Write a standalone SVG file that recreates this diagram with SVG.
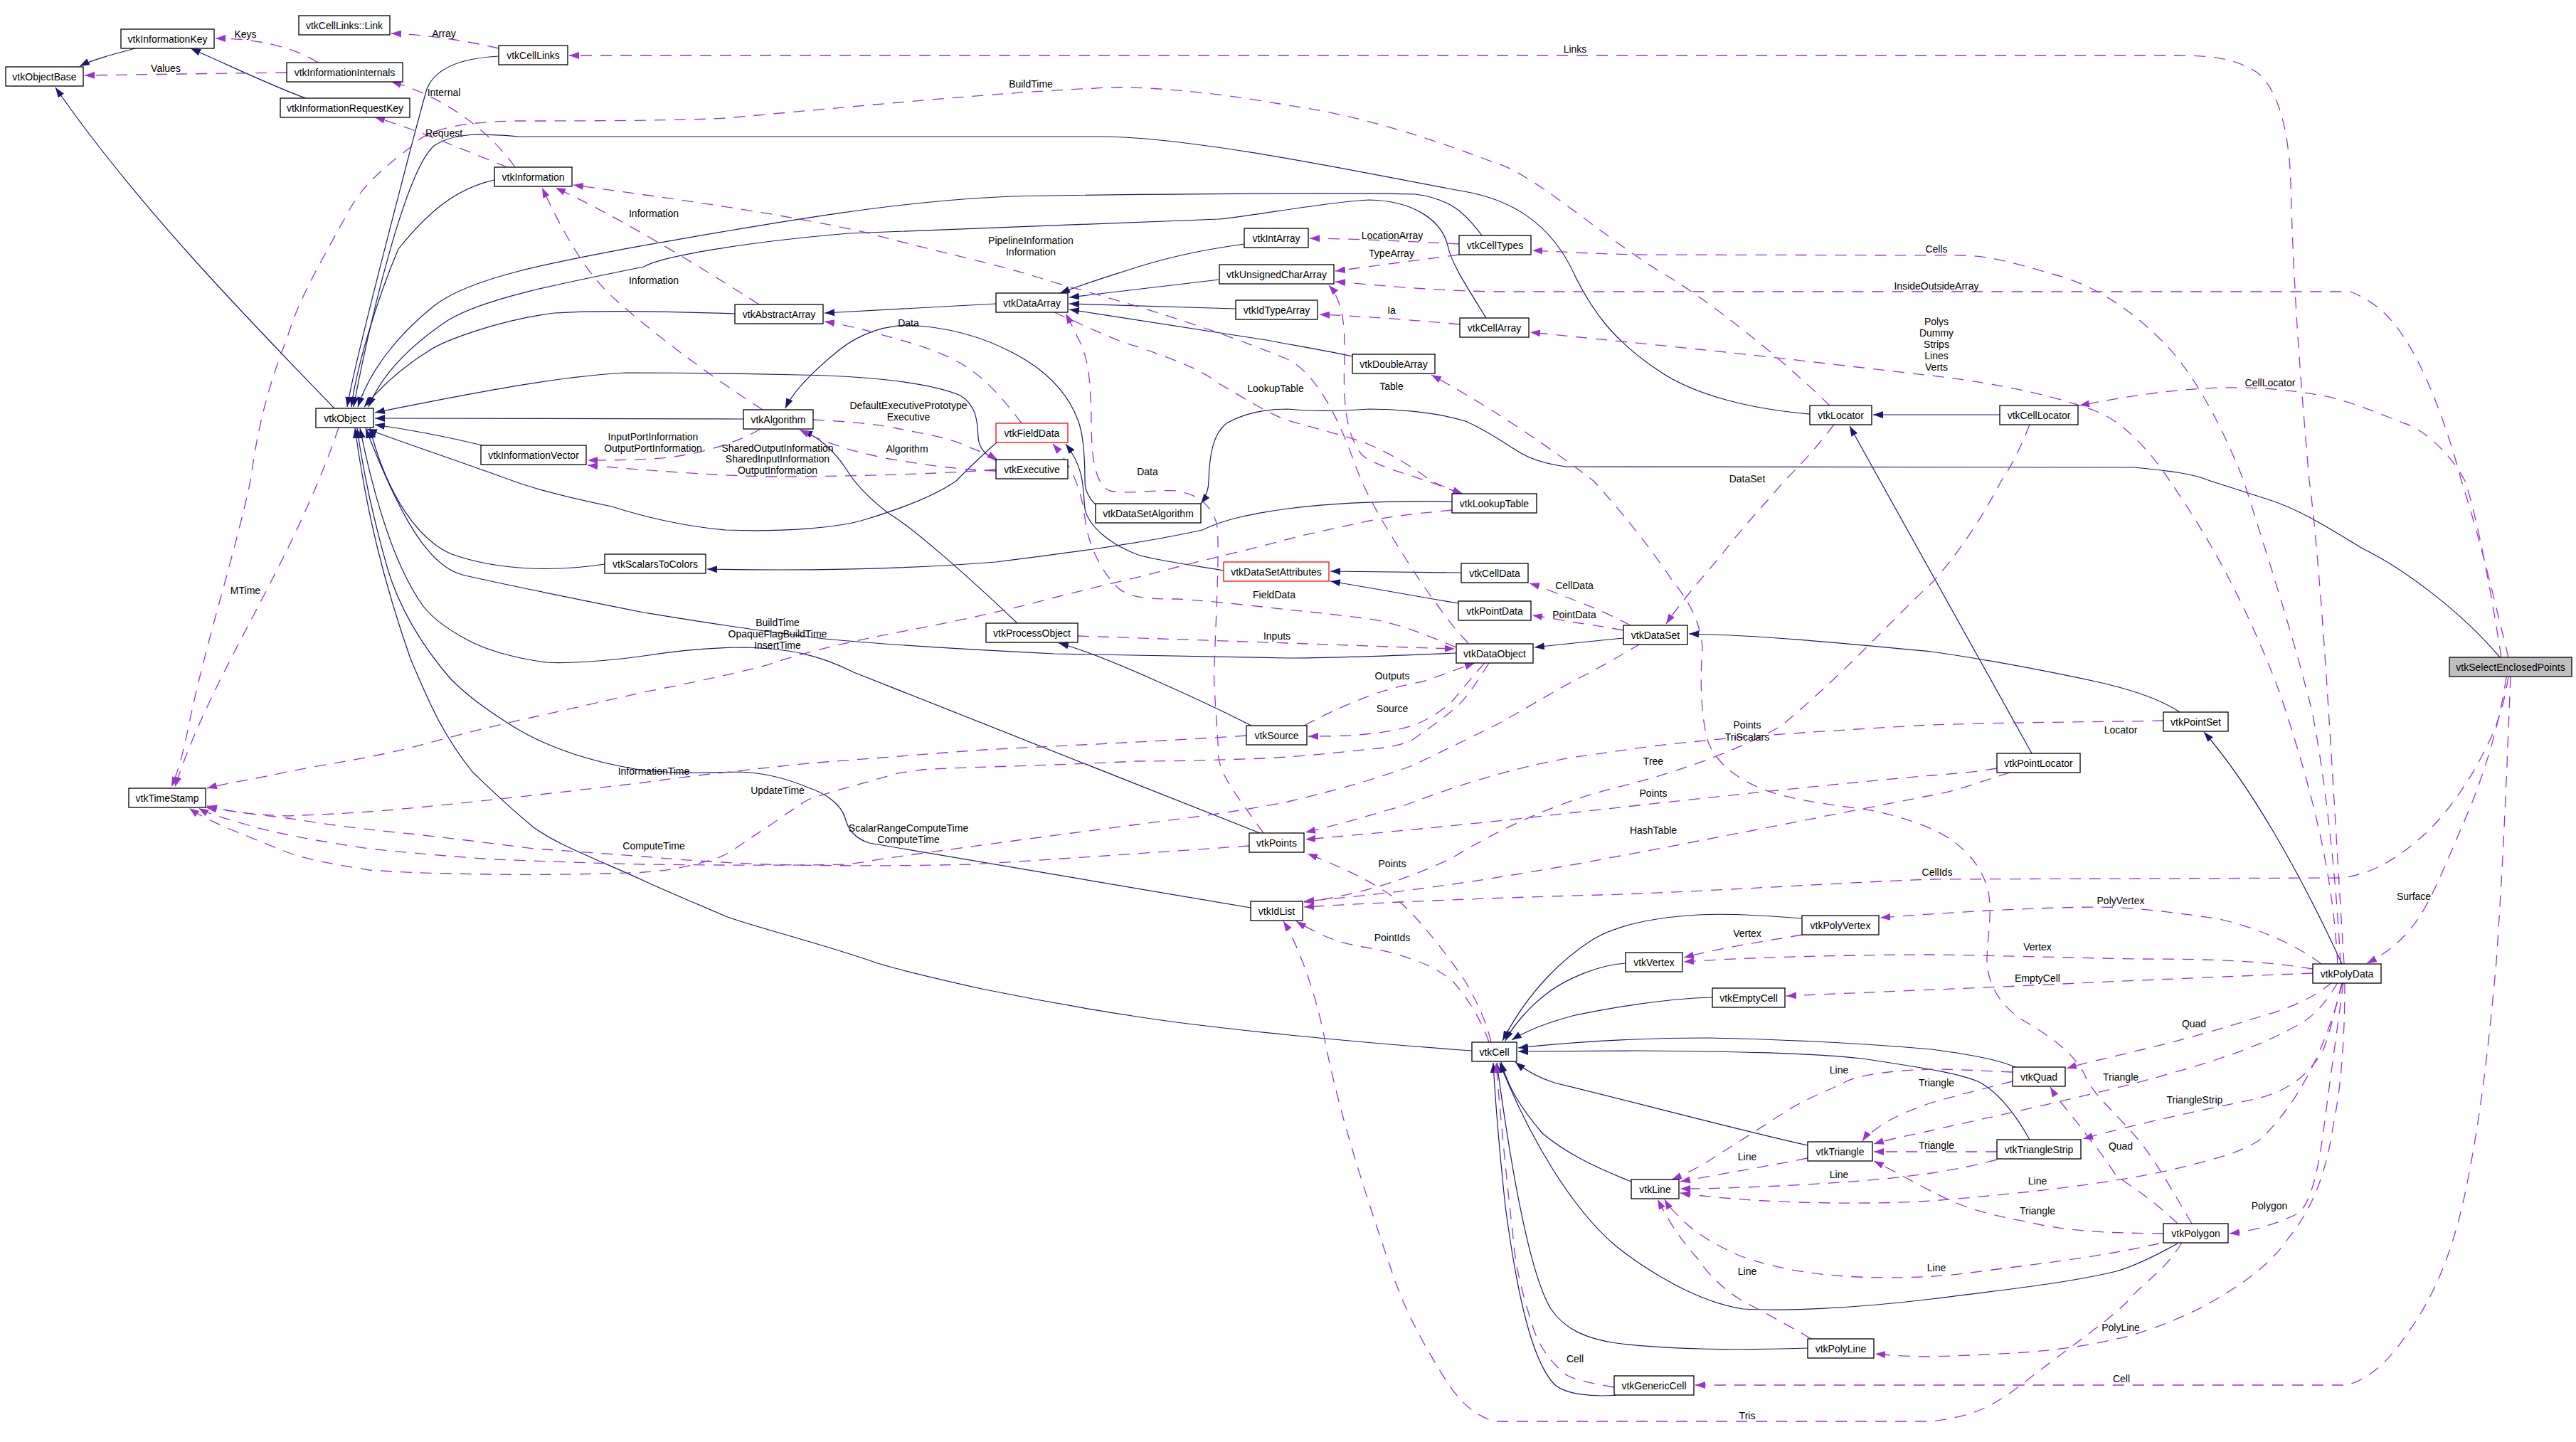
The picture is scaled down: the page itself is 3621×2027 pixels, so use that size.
<svg xmlns="http://www.w3.org/2000/svg" width="3621" height="2027" viewBox="0 0 3621 2027">
<defs>
<style>
.n rect{fill:#fff;stroke:#000;stroke-width:1.3}
.n.red rect{stroke:#ff0000}
.n.sel rect{fill:#bfbfbf}
.n text{font-family:"Liberation Sans",Arial,sans-serif;font-size:14px;text-anchor:middle;fill:#000}
.i{fill:none;stroke:#191970;stroke-width:1.2;marker-end:url(#an)}
.u{fill:none;stroke:#9a32cd;stroke-width:1.3;stroke-dasharray:16,12;marker-end:url(#ap)}
.l{font-family:"Liberation Sans",Arial,sans-serif;font-size:14px;text-anchor:middle;fill:#000}
</style>
<marker id="an" viewBox="0 0 14 10" refX="14" refY="5" markerWidth="14" markerHeight="10" markerUnits="userSpaceOnUse" orient="auto"><path d="M0,0 L14,5 L0,10 z" fill="#191970"/></marker>
<marker id="ap" viewBox="0 0 14 10" refX="14" refY="5" markerWidth="14" markerHeight="10" markerUnits="userSpaceOnUse" orient="auto"><path d="M0,0 L14,5 L0,10 z" fill="#9a32cd"/></marker>
</defs>
<rect width="3621" height="2027" fill="#fff"/>
<g id="edges">
<!-- inheritance -->
<path class="i" d="M190,68 C160,76 130,84 112,93"/>
<path class="i" d="M430,138 C390,124 340,100 268,68"/>
<path class="i" d="M470,574 C380,480 200,300 78,123"/>
<path class="i" d="M701,79 C640,82 610,100 600,125 C590,160 500,500 488,572"/>
<path class="i" d="M695,253 C640,265 600,300 560,350 C530,420 500,520 494,572"/>
<path class="i" d="M2544,582 C2460,575 2380,555 2330,520 C2270,480 2240,440 2215,390 C2180,310 2120,280 2058,269 C1950,250 1700,195 1554,192 L730,192 C680,188 640,185 610,205 C570,240 520,450 497,572"/>
<path class="i" d="M2083,331 C2060,300 2040,280 1990,273 C1900,270 1500,274 1424,276 C1250,282 1050,320 905,345 C780,368 660,390 610,430 C560,470 520,520 503,572"/>
<path class="i" d="M2089,447 C2060,400 2040,370 2035,345 C2025,305 1980,282 1925,281 C1870,283 1760,304 1713,308 L1194,328 C1050,340 930,360 905,375 C780,400 680,420 630,450 C570,490 535,530 518,572"/>
<path class="i" d="M1033,441 C950,438 850,435 779,440 C700,450 620,480 600,495 C560,520 530,550 512,572"/>
<path class="i" d="M1401,648 C1385,640 1376,630 1375,615 C1374,590 1372,570 1350,556 C1300,535 1200,528 1124,527 C1000,524 905,524 880,524 C800,528 700,545 527,580"/>
<path class="i" d="M1045,589 L527,588"/>
<path class="i" d="M678,626 C620,612 570,603 527,597"/>
<path class="i" d="M1401,622 C1380,640 1360,660 1344,676 C1310,700 1250,720 1217,730 C1180,742 1100,748 1020,745 C960,740 900,725 860,712 C800,700 760,690 721,676 C650,650 560,620 516,603"/>
<path class="i" d="M2047,918 C1950,922 1850,925 1810,925 L1482,919 C1300,910 1200,902 1159,898 C1050,885 960,870 905,861 C800,840 700,820 650,808 C600,795 560,720 514,602"/>
<path class="i" d="M850,793 C780,804 700,802 635,779 C590,760 545,700 520,602"/>
<path class="i" d="M1771,1171 L1200,945 C1150,920 1110,912 1049,910 C980,910 930,918 905,922 C850,930 790,933 768,931 C720,925 680,912 658,900 C620,880 600,861 590,845 C560,800 530,720 506,602"/>
<path class="i" d="M1758,1276 L1222,1185 C1200,1178 1192,1165 1188,1150 C1182,1130 1160,1115 1136,1107 C1100,1092 1070,1086 1040,1085 C1000,1086 960,1088 905,1083 C820,1070 760,1045 721,1021 C680,995 660,980 635,956 C590,905 560,850 545,800 C525,730 510,660 502,602"/>
<path class="i" d="M2069,1477 C1900,1465 1700,1445 1598,1429 C1500,1414 1424,1399 1380,1390 C1300,1372 1250,1360 1228,1352 C1150,1325 1050,1300 1020,1288 C960,1262 930,1250 905,1238 C820,1200 780,1185 750,1163 C710,1130 690,1110 664,1085 C620,1030 600,980 577,926 C540,820 515,720 499,602"/>
<path class="i" d="M1400,427 L1159,440"/>
<path class="i" d="M1749,343 C1700,350 1655,358 1600,375 C1560,388 1520,400 1490,412"/>
<path class="i" d="M1714,393 L1503,418"/>
<path class="i" d="M1737,434 L1503,427"/>
<path class="i" d="M1901,501 C1850,490 1810,484 1780,478 C1700,465 1600,450 1503,435"/>
<path class="i" d="M1541,710 C1530,700 1525,690 1525,676 C1525,640 1523,610 1515,590 C1500,550 1470,520 1424,496 C1390,478 1340,460 1277,457 C1230,458 1194,478 1170,500 C1140,525 1115,550 1104,574"/>
<path class="i" d="M1430,876 C1350,800 1280,740 1251,723 C1220,700 1199,676 1190,660 C1170,630 1150,615 1128,605"/>
<path class="i" d="M1759,1020 C1700,990 1550,920 1488,904"/>
<path class="i" d="M2041,705 C1980,704 1900,704 1810,715 C1760,722 1720,730 1690,745 C1600,765 1480,780 1400,790 C1250,802 1100,802 994,800"/>
<path class="i" d="M1720,802 C1680,795 1626,788 1600,780 C1560,765 1530,740 1525,715 C1522,690 1526,660 1498,624"/>
<path class="i" d="M2054,805 L1870,803"/>
<path class="i" d="M2050,848 C2000,840 1960,832 1870,817"/>
<path class="i" d="M2282,897 C2230,902 2190,906 2157,910"/>
<path class="i" d="M3064,1001 C3040,985 3000,970 2946,958 C2880,944 2800,928 2715,916 C2600,905 2480,893 2374,891"/>
<path class="i" d="M3292,1355 C3230,1220 3160,1100 3098,1029"/>
<path class="i" d="M3514,924 C3460,860 3380,800 3321,771 C3270,740 3230,715 3188,702 C3150,690 3120,680 3107,676 C3080,665 3050,662 3000,657 L2202,656 C2170,652 2150,645 2133,634 C2110,620 2090,605 2060,592 C2010,577 1950,575 1925,575 C1880,578 1840,578 1810,575 C1780,575 1750,580 1724,595 C1705,610 1700,640 1699,676 C1699,690 1694,700 1688,708"/>
<path class="i" d="M2811,583 L2633,583"/>
<path class="i" d="M2856,1059 L2600,599"/>
<path class="i" d="M2533,1291 C2470,1286 2420,1284 2387,1286 C2320,1290 2272,1301 2240,1320 C2200,1345 2150,1390 2112,1463"/>
<path class="i" d="M2285,1354 C2250,1356 2200,1375 2170,1400 C2145,1420 2125,1445 2116,1463"/>
<path class="i" d="M2407,1402 C2330,1404 2250,1420 2214,1427 C2180,1436 2150,1446 2125,1462"/>
<path class="i" d="M2833,1500 C2813,1492 2790,1485 2715,1475 C2600,1465 2503,1461 2400,1459 C2272,1459 2180,1468 2134,1473"/>
<path class="i" d="M2853,1602 C2835,1570 2810,1535 2780,1520 C2750,1508 2715,1503 2618,1488 C2540,1480 2445,1478 2300,1477 L2134,1478"/>
<path class="i" d="M2541,1610 C2450,1590 2300,1550 2185,1522 C2160,1514 2145,1505 2130,1493"/>
<path class="i" d="M2293,1661 C2240,1640 2200,1620 2168,1593 C2140,1560 2120,1530 2110,1493"/>
<path class="i" d="M3061,1748 C3030,1765 3000,1780 2975,1787 C2900,1805 2800,1815 2715,1826 C2600,1840 2503,1843 2450,1840 C2387,1830 2320,1790 2272,1752 C2210,1700 2150,1600 2108,1494"/>
<path class="i" d="M2541,1895 C2450,1898 2350,1898 2272,1888 C2230,1882 2200,1869 2180,1840 C2150,1790 2125,1650 2104,1494"/>
<path class="i" d="M2272,1961 C2240,1964 2200,1960 2185,1946 C2150,1910 2130,1800 2116,1696 C2108,1620 2102,1550 2099,1494"/>
<!-- usage -->
<path class="u" d="M447,88 C410,65 360,54 303,54"/>
<path class="u" d="M403,102 C330,103 250,104 119,106"/>
<path class="u" d="M701,68 C650,56 600,49 550,47"/>
<path class="u" d="M724,235 C700,200 640,140 550,115"/>
<path class="u" d="M713,235 C650,210 580,180 527,165"/>
<path class="u" d="M476,601 C460,650 430,720 400,780 C340,900 280,1000 246,1106"/>
<path class="u" d="M2572,570 C2500,500 2400,420 2329,379 C2250,330 2150,240 2099,228 C2000,190 1900,160 1810,148 C1700,128 1600,120 1540,124 C1400,130 1200,150 1020,166 C950,170 800,170 721,170 C650,172 600,180 577,207 C540,235 510,260 490,297 C450,370 420,420 404,474 C370,560 360,620 352,676 C330,780 290,900 265,1021 C255,1070 248,1090 241,1106"/>
<path class="u" d="M1067,428 C1000,385 880,310 781,264"/>
<path class="u" d="M1072,576 C1000,530 920,470 866,422 C830,390 800,345 762,264"/>
<path class="u" d="M2064,904 C2050,890 2041,879 2020,850 C1990,810 1960,760 1943,732 C1925,700 1914,680 1900,640 C1870,560 1840,520 1810,505 C1700,460 1600,430 1482,397 C1400,370 1300,350 1222,328 C1100,300 950,280 806,260"/>
<path class="u" d="M1069,603 C1040,620 1000,633 960,640 C930,645 900,647 826,647"/>
<path class="u" d="M1400,660 C1300,668 1150,670 1078,670 C1000,668 920,662 826,654"/>
<path class="u" d="M1143,590 C1180,592 1228,595 1260,602 C1300,610 1338,616 1360,628 C1380,635 1395,642 1402,646"/>
<path class="u" d="M1400,662 C1350,660 1309,655 1250,645 C1200,635 1165,625 1124,604"/>
<path class="u" d="M1436,595 C1410,560 1380,525 1340,505 C1300,485 1250,474 1220,465 C1200,460 1180,455 1159,452"/>
<path class="u" d="M1776,1171 C1740,1120 1715,1090 1713,1064 C1710,1000 1705,960 1707,935 C1710,850 1715,760 1710,735 C1700,705 1680,695 1655,690 C1620,688 1590,695 1560,690 C1540,680 1535,650 1534,600 C1534,540 1530,500 1515,475 C1508,460 1503,450 1498,441"/>
<path class="u" d="M2047,910 C2000,890 1960,875 1925,870 C1880,864 1840,860 1810,857 C1750,850 1680,843 1655,842 C1610,842 1586,840 1570,825 C1550,805 1530,770 1525,728 C1520,690 1510,660 1480,624"/>
<path class="u" d="M1482,439 C1530,460 1570,480 1598,487 C1650,505 1690,520 1713,539 C1750,560 1780,580 1810,591 C1860,605 1900,615 1925,625 C1960,640 1990,660 2012,676 C2030,685 2045,690 2056,694"/>
<path class="u" d="M2052,694 C2000,670 1940,660 1915,640 C1890,610 1888,560 1890,500 C1891,450 1885,420 1868,401"/>
<path class="u" d="M2052,456 C1990,450 1920,445 1855,442"/>
<path class="u" d="M2051,343 C1990,340 1920,336 1841,335"/>
<path class="u" d="M2051,358 C1990,366 1930,374 1877,381"/>
<path class="u" d="M3295,1355 C3290,1280 3280,1100 3269,935 C3260,800 3250,700 3246,676 C3240,600 3225,450 3220,259 C3218,180 3200,120 3170,100 C3140,82 3110,78 3060,78 L800,78"/>
<path class="u" d="M3290,1355 C3285,1250 3270,1100 3250,1000 C3220,880 3180,760 3154,676 C3120,590 3080,520 3040,480 C2990,430 2940,400 2888,386 C2840,372 2800,360 2760,359 L2300,358 C2220,356 2180,353 2154,352"/>
<path class="u" d="M3526,924 C3510,860 3490,770 3460,676 C3440,600 3410,520 3379,474 C3360,445 3340,425 3304,410 L2099,410 C2000,408 1930,400 1877,396"/>
<path class="u" d="M3286,1355 C3280,1250 3263,1150 3206,978 C3170,880 3119,775 3050,676 C3020,630 2980,590 2946,578 C2900,560 2820,540 2715,528 C2600,515 2450,497 2387,491 C2300,482 2200,472 2151,467"/>
<path class="u" d="M3516,924 C3500,820 3480,720 3465,676 C3440,630 3400,600 3379,595 C3330,575 3290,560 3263,556 C3220,548 3177,544 3120,545 C3060,547 3000,555 2923,570"/>
<path class="u" d="M2578,597 C2560,620 2540,645 2508,676 C2480,710 2450,740 2420,780 C2390,815 2360,850 2342,877"/>
<path class="u" d="M2853,597 C2840,630 2825,660 2813,676 C2790,720 2760,770 2715,820 C2660,870 2600,940 2503,1021 C2450,1050 2380,1080 2272,1107 C2180,1130 2100,1170 2041,1206 C1970,1240 1900,1260 1833,1268"/>
<path class="u" d="M3041,1013 C2950,1015 2830,1015 2715,1019 C2600,1025 2450,1035 2387,1042 C2300,1050 2250,1060 2214,1064 C2120,1080 2041,1107 1980,1130 C1930,1145 1880,1160 1835,1170"/>
<path class="u" d="M2807,1080 C2780,1085 2740,1088 2715,1090 C2600,1100 2445,1116 2214,1142 C2100,1155 1983,1167 1835,1180"/>
<path class="u" d="M2825,1086 C2780,1100 2750,1112 2715,1118 C2600,1140 2445,1172 2214,1215 C2100,1235 1983,1254 1833,1267"/>
<path class="u" d="M3526,951 C3520,990 3511,1021 3490,1060 C3470,1100 3436,1150 3400,1180 C3370,1205 3338,1228 3292,1234 L2715,1236 C2600,1240 2387,1254 2250,1258 C2100,1262 1950,1268 1833,1275"/>
<path class="u" d="M2096,1465 C2090,1440 2081,1417 2060,1380 C2040,1350 2000,1297 1970,1270 C1940,1245 1900,1225 1838,1200"/>
<path class="u" d="M2093,1465 C2087,1447 2070,1410 2041,1378 C2010,1355 1995,1352 1960,1340 C1920,1330 1897,1331 1860,1315 C1840,1305 1830,1300 1822,1295"/>
<path class="u" d="M3067,1747 C3040,1790 3015,1800 2990,1830 C2960,1860 2900,1900 2830,1955 C2800,1975 2780,1990 2715,1998 L2100,1998 C2060,1985 2041,1955 2020,1920 C1990,1870 1970,1830 1954,1780 C1920,1680 1880,1560 1860,1450 C1845,1380 1820,1320 1804,1295"/>
<path class="u" d="M3081,1720 C3060,1685 3030,1630 3004,1600 C2970,1560 2940,1537 2930,1510 C2915,1480 2880,1455 2840,1432 C2810,1410 2795,1385 2793,1352 C2793,1320 2800,1290 2796,1260 C2790,1220 2760,1185 2715,1165 C2680,1150 2640,1140 2618,1137 C2560,1130 2510,1122 2480,1110 C2440,1095 2410,1070 2400,1040 C2390,1000 2390,950 2393,910 C2390,870 2370,840 2350,815 C2320,770 2280,720 2240,676 C2180,630 2100,575 2012,527"/>
<path class="u" d="M2533,1314 C2470,1325 2420,1332 2367,1346"/>
<path class="u" d="M3251,1362 C3180,1350 3100,1348 3004,1348 C2900,1346 2800,1343 2715,1342 C2600,1342 2450,1346 2367,1352"/>
<path class="u" d="M3263,1355 C3230,1330 3177,1305 3120,1292 C3060,1283 3000,1275 2946,1275 C2850,1276 2750,1282 2643,1290"/>
<path class="u" d="M3251,1368 C3150,1372 3004,1378 2900,1383 C2800,1388 2715,1391 2511,1400"/>
<path class="u" d="M3278,1381 C3250,1405 3210,1420 3177,1429 C3120,1447 3061,1464 3000,1478 C2960,1488 2930,1494 2905,1502"/>
<path class="u" d="M3286,1381 C3270,1410 3250,1430 3235,1438 C3180,1470 3119,1490 3040,1512 C2960,1535 2800,1570 2715,1589 C2690,1595 2660,1600 2634,1608"/>
<path class="u" d="M3292,1381 C3280,1430 3270,1470 3263,1481 C3240,1515 3217,1533 3170,1545 C3120,1555 3000,1580 2928,1601"/>
<path class="u" d="M3293,1381 C3270,1470 3235,1546 3177,1602 C3150,1620 3119,1628 3050,1645 C2980,1660 2880,1675 2715,1688 C2600,1695 2450,1690 2362,1677"/>
<path class="u" d="M3294,1381 C3285,1450 3275,1520 3269,1567 C3260,1640 3250,1690 3230,1706 C3200,1720 3170,1730 3134,1734"/>
<path class="u" d="M3296,1381 C3296,1450 3292,1524 3280,1580 C3270,1650 3250,1700 3217,1740 C3190,1780 3148,1808 3100,1835 C3061,1856 3000,1878 2975,1882 C2900,1900 2830,1903 2715,1907 C2680,1907 2660,1905 2636,1903"/>
<path class="u" d="M3529,951 C3525,1050 3520,1193 3509,1352 C3500,1450 3490,1550 3470,1653 C3450,1760 3420,1826 3380,1880 C3360,1910 3330,1940 3298,1947 L2383,1947"/>
<path class="u" d="M3523,952 C3515,1010 3495,1080 3470,1140 C3440,1210 3420,1260 3400,1290 C3380,1320 3355,1340 3327,1354"/>
<path class="u" d="M2541,1628 C2480,1640 2420,1650 2362,1661"/>
<path class="u" d="M2829,1507 C2780,1505 2750,1503 2715,1503 C2640,1505 2600,1515 2589,1524 C2550,1540 2520,1555 2503,1567 C2460,1595 2420,1620 2400,1633 C2380,1645 2365,1652 2350,1658"/>
<path class="u" d="M2829,1520 C2790,1530 2750,1540 2715,1550 C2680,1562 2658,1572 2640,1585 C2630,1592 2622,1598 2618,1604"/>
<path class="u" d="M2807,1630 C2770,1640 2740,1645 2715,1649 C2640,1660 2560,1664 2500,1667 C2430,1670 2400,1671 2362,1671"/>
<path class="u" d="M2807,1619 L2634,1619"/>
<path class="u" d="M3041,1734 C2960,1733 2917,1731 2870,1722 C2830,1713 2802,1710 2760,1695 C2720,1680 2690,1660 2634,1632"/>
<path class="u" d="M3035,1748 C2960,1765 2888,1774 2800,1785 C2750,1792 2715,1796 2650,1796 C2560,1795 2500,1785 2445,1765 C2400,1745 2376,1727 2360,1710 C2350,1700 2345,1695 2340,1686"/>
<path class="u" d="M3061,1720 C3030,1690 3000,1670 2975,1653 C2960,1630 2945,1610 2934,1597 C2915,1570 2895,1550 2882,1528"/>
<path class="u" d="M2546,1882 C2500,1855 2470,1840 2445,1826 C2420,1810 2400,1790 2387,1770 C2360,1740 2345,1715 2330,1686"/>
<path class="u" d="M2269,1950 C2240,1945 2215,1940 2202,1933 C2180,1915 2165,1895 2156,1869 C2140,1820 2130,1780 2127,1740 C2118,1660 2110,1580 2103,1494"/>
<path class="u" d="M2292,879 C2260,862 2230,850 2214,844 C2190,835 2170,826 2150,820"/>
<path class="u" d="M2282,886 C2250,880 2220,876 2214,875 C2190,871 2175,868 2154,865"/>
<path class="u" d="M1515,894 C1600,897 1700,900 1810,904 C1900,907 1970,910 2045,912"/>
<path class="u" d="M1833,1020 C1870,1000 1900,988 1925,978 C1960,965 1990,960 2000,958 C2030,948 2050,940 2073,932"/>
<path class="u" d="M2087,932 C2070,950 2055,970 2041,986 C2020,1005 2000,1015 1983,1021 C1950,1030 1920,1032 1897,1034 C1870,1035 1855,1035 1839,1035"/>
<path class="u" d="M2041,717 C1990,722 1960,725 1925,732 C1880,742 1840,750 1810,758 C1760,772 1700,785 1655,797 C1600,812 1540,825 1482,840 C1400,862 1320,878 1251,891 C1180,905 1120,920 1078,935 C1020,950 960,962 905,973 C850,985 800,997 750,1008 C680,1023 620,1040 577,1051 C510,1068 450,1075 404,1085 C360,1095 320,1100 291,1108"/>
<path class="u" d="M1752,1034 C1600,1044 1450,1050 1367,1055 C1280,1062 1200,1068 1136,1073 C1050,1082 960,1092 905,1100 C820,1110 750,1118 693,1124 C620,1132 560,1138 519,1141 C460,1145 420,1146 404,1147 C350,1145 320,1140 291,1133"/>
<path class="u" d="M2093,932 C2075,960 2060,985 2041,999 C2010,1025 1990,1035 1983,1042 C1960,1050 1940,1052 1925,1053 C1880,1058 1840,1062 1810,1064 C1750,1068 1650,1070 1598,1070 C1500,1075 1380,1078 1309,1081 C1280,1083 1260,1087 1251,1090 C1200,1105 1160,1115 1136,1124 C1110,1140 1090,1155 1078,1163 C1050,1180 1030,1198 1009,1206 C970,1218 940,1224 905,1226 C820,1230 720,1230 635,1228 C580,1227 550,1225 519,1223 C470,1215 430,1208 404,1198 C370,1185 340,1172 317,1163 C295,1153 280,1146 266,1136"/>
<path class="u" d="M1756,1189 C1600,1200 1450,1210 1367,1215 C1250,1218 1150,1217 1078,1215 C1000,1212 950,1208 905,1204 C850,1200 800,1196 750,1193 C690,1185 630,1178 577,1172 C500,1165 450,1157 404,1150 C360,1145 320,1140 290,1135"/>
<path class="u" d="M2306,905 C2280,920 2250,938 2214,956 C2170,980 2130,1005 2099,1021 C2060,1040 2020,1060 1983,1077 C1920,1100 1860,1115 1810,1127 C1730,1143 1650,1152 1598,1159 C1530,1168 1470,1176 1424,1182 C1330,1195 1250,1205 1194,1215 C1100,1217 1000,1216 905,1215 C820,1213 750,1210 693,1208 C620,1203 570,1198 519,1193 C450,1183 380,1170 346,1159 C315,1150 295,1145 279,1136"/>
</g>
<g id="labels">
<text class="l" x="345" y="53">Keys</text>
<text class="l" x="233" y="101">Values</text>
<text class="l" x="624" y="52">Array</text>
<text class="l" x="624" y="135">Internal</text>
<text class="l" x="624" y="192">Request</text>
<text class="l" x="1449" y="123">BuildTime</text>
<text class="l" x="2214" y="74">Links</text>
<text class="l" x="919" y="305">Information</text>
<text class="l" x="919" y="399">Information</text>
<text class="l" x="1449" y="343">PipelineInformation</text>
<text class="l" x="1449" y="359">Information</text>
<text class="l" x="1957" y="336">LocationArray</text>
<text class="l" x="1956" y="361">TypeArray</text>
<text class="l" x="2722" y="355">Cells</text>
<text class="l" x="2722" y="407">InsideOutsideArray</text>
<text class="l" x="1956" y="441">Ia</text>
<text class="l" x="2722" y="457">Polys</text>
<text class="l" x="2722" y="473">Dummy</text>
<text class="l" x="2722" y="489">Strips</text>
<text class="l" x="2722" y="505">Lines</text>
<text class="l" x="2722" y="521">Verts</text>
<text class="l" x="1277" y="459">Data</text>
<text class="l" x="1956" y="548">Table</text>
<text class="l" x="1793" y="551">LookupTable</text>
<text class="l" x="3191" y="543">CellLocator</text>
<text class="l" x="1277" y="575">DefaultExecutivePrototype</text>
<text class="l" x="1277" y="591">Executive</text>
<text class="l" x="918" y="619">InputPortInformation</text>
<text class="l" x="918" y="635">OutputPortInformation</text>
<text class="l" x="1093" y="635">SharedOutputInformation</text>
<text class="l" x="1093" y="650">SharedInputInformation</text>
<text class="l" x="1093" y="666">OutputInformation</text>
<text class="l" x="1275" y="636">Algorithm</text>
<text class="l" x="1613" y="668">Data</text>
<text class="l" x="2456" y="678">DataSet</text>
<text class="l" x="345" y="835">MTime</text>
<text class="l" x="2213" y="828">CellData</text>
<text class="l" x="1791" y="841">FieldData</text>
<text class="l" x="2213" y="869">PointData</text>
<text class="l" x="1093" y="880">BuildTime</text>
<text class="l" x="1093" y="896">OpaqueFlagBuildTime</text>
<text class="l" x="1093" y="912">InsertTime</text>
<text class="l" x="1795" y="899">Inputs</text>
<text class="l" x="1957" y="955">Outputs</text>
<text class="l" x="1957" y="1001">Source</text>
<text class="l" x="2981" y="1031">Locator</text>
<text class="l" x="2456" y="1024">Points</text>
<text class="l" x="2456" y="1041">TriScalars</text>
<text class="l" x="2324" y="1075">Tree</text>
<text class="l" x="919" y="1089">InformationTime</text>
<text class="l" x="1093" y="1116">UpdateTime</text>
<text class="l" x="2324" y="1120">Points</text>
<text class="l" x="1277" y="1169">ScalarRangeComputeTime</text>
<text class="l" x="1277" y="1185">ComputeTime</text>
<text class="l" x="2324" y="1172">HashTable</text>
<text class="l" x="919" y="1194">ComputeTime</text>
<text class="l" x="1957" y="1219">Points</text>
<text class="l" x="2723" y="1231">CellIds</text>
<text class="l" x="3393" y="1265">Surface</text>
<text class="l" x="2981" y="1271">PolyVertex</text>
<text class="l" x="2456" y="1317">Vertex</text>
<text class="l" x="1957" y="1323">PointIds</text>
<text class="l" x="2864" y="1336">Vertex</text>
<text class="l" x="2864" y="1380">EmptyCell</text>
<text class="l" x="3084" y="1444">Quad</text>
<text class="l" x="2585" y="1509">Line</text>
<text class="l" x="2981" y="1519">Triangle</text>
<text class="l" x="2722" y="1527">Triangle</text>
<text class="l" x="3085" y="1551">TriangleStrip</text>
<text class="l" x="2722" y="1615">Triangle</text>
<text class="l" x="2981" y="1616">Quad</text>
<text class="l" x="2456" y="1631">Line</text>
<text class="l" x="2585" y="1656">Line</text>
<text class="l" x="2864" y="1665">Line</text>
<text class="l" x="3190" y="1700">Polygon</text>
<text class="l" x="2864" y="1707">Triangle</text>
<text class="l" x="2722" y="1787">Line</text>
<text class="l" x="2456" y="1792">Line</text>
<text class="l" x="2981" y="1871">PolyLine</text>
<text class="l" x="2214" y="1915">Cell</text>
<text class="l" x="2982" y="1943">Cell</text>
<text class="l" x="2456" y="1995">Tris</text>
</g>
<g id="vtkInformationKey" class="n"><rect x="170" y="41" width="131" height="27"/><text x="235.5" y="59.5">vtkInformationKey</text></g>
<g id="vtkObjectBase" class="n"><rect x="8" y="94" width="109" height="27"/><text x="62.5" y="112.5">vtkObjectBase</text></g>
<g id="vtkCellLinks_Link" class="n"><rect x="420" y="22" width="128" height="27"/><text x="484" y="40.5">vtkCellLinks::Link</text></g>
<g id="vtkCellLinks" class="n"><rect x="701" y="64" width="97" height="27"/><text x="749.5" y="82.5">vtkCellLinks</text></g>
<g id="vtkInformationInternals" class="n"><rect x="403" y="88" width="163" height="27"/><text x="484.5" y="106.5">vtkInformationInternals</text></g>
<g id="vtkInformationRequestKey" class="n"><rect x="394" y="138" width="182" height="27"/><text x="485" y="156.5">vtkInformationRequestKey</text></g>
<g id="vtkInformation" class="n"><rect x="695" y="235" width="109" height="27"/><text x="749.5" y="253.5">vtkInformation</text></g>
<g id="vtkObject" class="n"><rect x="444" y="574" width="81" height="27"/><text x="484.5" y="592.5">vtkObject</text></g>
<g id="vtkInformationVector" class="n"><rect x="676" y="626" width="148" height="27"/><text x="750" y="644.5">vtkInformationVector</text></g>
<g id="vtkIntArray" class="n"><rect x="1749" y="321" width="90" height="27"/><text x="1794" y="339.5">vtkIntArray</text></g>
<g id="vtkUnsignedCharArray" class="n"><rect x="1714" y="372" width="161" height="27"/><text x="1794.5" y="390.5">vtkUnsignedCharArray</text></g>
<g id="vtkIdTypeArray" class="n"><rect x="1737" y="422" width="115" height="27"/><text x="1794.5" y="440.5">vtkIdTypeArray</text></g>
<g id="vtkDataArray" class="n"><rect x="1400" y="412" width="101" height="27"/><text x="1450.5" y="430.5">vtkDataArray</text></g>
<g id="vtkAbstractArray" class="n"><rect x="1033" y="428" width="124" height="27"/><text x="1095" y="446.5">vtkAbstractArray</text></g>
<g id="vtkAlgorithm" class="n"><rect x="1045" y="576" width="98" height="27"/><text x="1094" y="594.5">vtkAlgorithm</text></g>
<g id="vtkFieldData" class="n red"><rect x="1400" y="595" width="101" height="27"/><text x="1450.5" y="613.5">vtkFieldData</text></g>
<g id="vtkExecutive" class="n"><rect x="1400" y="646" width="101" height="27"/><text x="1450.5" y="664.5">vtkExecutive</text></g>
<g id="vtkCellTypes" class="n"><rect x="2051" y="331" width="101" height="27"/><text x="2101.5" y="349.5">vtkCellTypes</text></g>
<g id="vtkCellArray" class="n"><rect x="2052" y="447" width="97" height="27"/><text x="2100.5" y="465.5">vtkCellArray</text></g>
<g id="vtkDoubleArray" class="n"><rect x="1901" y="498" width="116" height="27"/><text x="1959" y="516.5">vtkDoubleArray</text></g>
<g id="vtkLocator" class="n"><rect x="2544" y="570" width="87" height="27"/><text x="2587.5" y="588.5">vtkLocator</text></g>
<g id="vtkCellLocator" class="n"><rect x="2811" y="570" width="110" height="27"/><text x="2866" y="588.5">vtkCellLocator</text></g>
<g id="vtkTimeStamp" class="n"><rect x="181" y="1108" width="108" height="27"/><text x="235" y="1126.5">vtkTimeStamp</text></g>
<g id="vtkScalarsToColors" class="n"><rect x="850" y="779" width="142" height="27"/><text x="921" y="797.5">vtkScalarsToColors</text></g>
<g id="vtkDataSetAlgorithm" class="n"><rect x="1540" y="708" width="148" height="27"/><text x="1614" y="726.5">vtkDataSetAlgorithm</text></g>
<g id="vtkDataSetAttributes" class="n red"><rect x="1720" y="790" width="148" height="27"/><text x="1794" y="808.5">vtkDataSetAttributes</text></g>
<g id="vtkProcessObject" class="n"><rect x="1386" y="876" width="129" height="27"/><text x="1450.5" y="894.5">vtkProcessObject</text></g>
<g id="vtkSource" class="n"><rect x="1752" y="1020" width="85" height="27"/><text x="1794.5" y="1038.5">vtkSource</text></g>
<g id="vtkPoints" class="n"><rect x="1756" y="1171" width="77" height="27"/><text x="1794.5" y="1189.5">vtkPoints</text></g>
<g id="vtkIdList" class="n"><rect x="1758" y="1267" width="73" height="27"/><text x="1794.5" y="1285.5">vtkIdList</text></g>
<g id="vtkLookupTable" class="n"><rect x="2041" y="694" width="119" height="27"/><text x="2100.5" y="712.5">vtkLookupTable</text></g>
<g id="vtkCellData" class="n"><rect x="2054" y="792" width="94" height="27"/><text x="2101" y="810.5">vtkCellData</text></g>
<g id="vtkPointData" class="n"><rect x="2050" y="845" width="102" height="27"/><text x="2101" y="863.5">vtkPointData</text></g>
<g id="vtkDataSet" class="n"><rect x="2282" y="879" width="90" height="27"/><text x="2327" y="897.5">vtkDataSet</text></g>
<g id="vtkDataObject" class="n"><rect x="2047" y="905" width="108" height="27"/><text x="2101" y="923.5">vtkDataObject</text></g>
<g id="vtkPolyVertex" class="n"><rect x="2533" y="1287" width="108" height="27"/><text x="2587" y="1305.5">vtkPolyVertex</text></g>
<g id="vtkVertex" class="n"><rect x="2285" y="1339" width="80" height="27"/><text x="2325" y="1357.5">vtkVertex</text></g>
<g id="vtkSelectEnclosedPoints" class="n sel"><rect x="3443" y="924" width="172" height="27"/><text x="3529" y="942.5">vtkSelectEnclosedPoints</text></g>
<g id="vtkPointSet" class="n"><rect x="3041" y="1001" width="91" height="27"/><text x="3086.5" y="1019.5">vtkPointSet</text></g>
<g id="vtkPointLocator" class="n"><rect x="2807" y="1059" width="117" height="27"/><text x="2865.5" y="1077.5">vtkPointLocator</text></g>
<g id="vtkEmptyCell" class="n"><rect x="2407" y="1389" width="102" height="27"/><text x="2458" y="1407.5">vtkEmptyCell</text></g>
<g id="vtkCell" class="n"><rect x="2069" y="1465" width="63" height="27"/><text x="2100.5" y="1483.5">vtkCell</text></g>
<g id="vtkTriangle" class="n"><rect x="2541" y="1605" width="91" height="27"/><text x="2586.5" y="1623.5">vtkTriangle</text></g>
<g id="vtkLine" class="n"><rect x="2293" y="1658" width="67" height="27"/><text x="2326.5" y="1676.5">vtkLine</text></g>
<g id="vtkPolyLine" class="n"><rect x="2541" y="1882" width="93" height="27"/><text x="2587.5" y="1900.5">vtkPolyLine</text></g>
<g id="vtkGenericCell" class="n"><rect x="2269" y="1934" width="112" height="27"/><text x="2325" y="1952.5">vtkGenericCell</text></g>
<g id="vtkPolyData" class="n"><rect x="3251" y="1355" width="96" height="27"/><text x="3299" y="1373.5">vtkPolyData</text></g>
<g id="vtkQuad" class="n"><rect x="2829" y="1500" width="74" height="27"/><text x="2866" y="1518.5">vtkQuad</text></g>
<g id="vtkTriangleStrip" class="n"><rect x="2807" y="1602" width="118" height="27"/><text x="2866" y="1620.5">vtkTriangleStrip</text></g>
<g id="vtkPolygon" class="n"><rect x="3041" y="1720" width="91" height="27"/><text x="3086.5" y="1738.5">vtkPolygon</text></g>
</svg>
